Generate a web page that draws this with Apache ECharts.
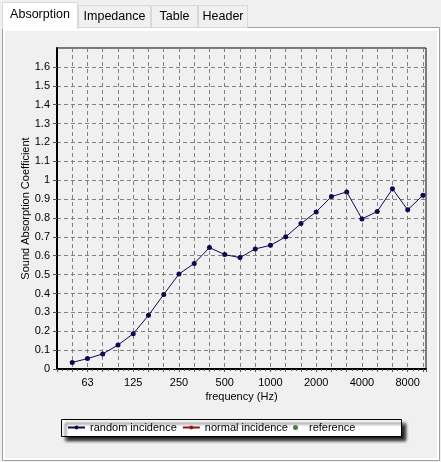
<!DOCTYPE html>
<html>
<head>
<meta charset="utf-8">
<script src="https://cdn.jsdelivr.net/npm/echarts@6/dist/echarts.min.js"></script>
<style>
  html, body { margin: 0; padding: 0; background: #f0f0f0; }
  #chart { width: 441px; height: 462px; }
</style>
</head>
<body>
<div id="chart"></div>
<script>
// third-octave band centres (Hz)
var freqs = [50, 63, 80, 100, 125, 160, 200, 250, 315, 400, 500, 630, 800, 1000,
  1250, 1600, 2000, 2500, 3150, 4000, 5000, 6300, 8000, 10000];
var randomIncidence = [0.035, 0.055, 0.08, 0.127, 0.187, 0.284, 0.395, 0.503, 0.559, 0.643,
  0.606, 0.59, 0.636, 0.655, 0.70, 0.77, 0.832, 0.913, 0.938, 0.795, 0.834, 0.954, 0.843, 0.92];
var normalIncidence = [];
var reference = [];
// octave labels, one every 3 bands starting at 62.5 Hz
var xTickLabels = ['63', '125', '250', '500', '1000', '2000', '4000', '8000'];
var tabs = ['Absorption', 'Impedance', 'Table', 'Header'];

var font = 'Liberation Sans, Arial, sans-serif';

// band index relative to 62.5 Hz (log2 scale, 3 per octave)
function band(f) { return Math.round(3 * Math.log2(f / 62.5)); }

var chart = echarts.init(document.getElementById('chart'));

var tabX = [2, 78, 151, 198, 248];
var graphics = [
  // tab panel
  { type: 'rect', z: -10, shape: { x: 2.5, y: 27.5, width: 437, height: 433 },
    style: { fill: '#ffffff', stroke: '#a0a0a0', lineWidth: 1 } },
  { type: 'rect', z: -9, shape: { x: 5, y: 31, width: 432, height: 427 },
    style: { fill: '#f0f0f0' } },
  // legend frame with shadow
  { type: 'rect', z: 1, shape: { x: 61.5, y: 419.5, width: 340, height: 17 },
    style: { fill: '#ffffff', stroke: '#000', lineWidth: 1,
      shadowBlur: 3, shadowOffsetX: 4, shadowOffsetY: 4, shadowColor: 'rgba(0,0,0,0.85)' } }
];
tabs.forEach(function (t, i) {
  var sel = i === 0;
  var x0 = tabX[i], x1 = tabX[i + 1];
  graphics.push({ type: 'rect', z: sel ? -5 : -8,
    shape: { x: x0 + 0.5, y: sel ? 2.5 : 5.5, width: x1 - x0 - 1, height: sel ? 26 : 22 },
    style: { fill: sel ? '#ffffff' : '#f0f0f0', stroke: '#d9d9d9', lineWidth: 1 } });
  graphics.push({ type: 'text', z: -4, x: (x0 + x1) / 2, y: sel ? 15 : 16.5,
    style: { text: t, font: '12.5px ' + font, fill: '#000', align: 'center', verticalAlign: 'middle' } });
});
// hide the line under the selected tab
graphics.push({ type: 'rect', z: -4, shape: { x: 3, y: 26, width: 74, height: 4 }, style: { fill: '#ffffff' } });

var option = {
  backgroundColor: '#f0f0f0',
  animation: false,
  textStyle: { fontFamily: font },
  graphic: graphics,
  grid: {
    left: 57, right: 15, top: 48, bottom: 93,
    show: true, borderColor: '#000', borderWidth: 1, backgroundColor: 'transparent'
  },
  legend: {
    left: 61, top: 422, z: 10,
    padding: [0, 0, 0, 6],
    itemGap: 5, itemWidth: 17, itemHeight: 5,
    textStyle: { fontSize: 11, color: '#000', fontFamily: font },
    data: ['random incidence', 'normal incidence', 'reference']
  },
  xAxis: {
    type: 'value', min: -2, max: 22.2, interval: 1,
    name: 'frequency (Hz)', nameLocation: 'middle', nameGap: 22, nameMoveOverlap: false,
    nameTextStyle: { fontSize: 11, color: '#000', fontFamily: font },
    axisLine: { onZero: false, lineStyle: { color: '#000', width: 2 } },
    axisTick: { length: 3, lineStyle: { color: '#555' } },
    minorTick: { show: true, splitNumber: 3, length: 2, lineStyle: { color: '#555' } },
    axisLabel: {
      interval: 0, margin: 8, fontSize: 11, color: '#000', fontFamily: font,
      showMaxLabel: false, showMinLabel: false,
      formatter: function (v) {
        var k = Math.round(v);
        return (k >= 0 && k % 3 === 0 && xTickLabels[k / 3]) ? xTickLabels[k / 3] : '';
      }
    },
    splitLine: { show: true, lineStyle: { color: '#808080', type: [4, 3], width: 1 } }
  },
  yAxis: {
    type: 'value', min: 0, max: 1.7, interval: 0.1,
    name: 'Sound Absorption Coefficient', nameLocation: 'middle', nameGap: 26, nameMoveOverlap: false,
    nameTextStyle: { fontSize: 11, color: '#000', fontFamily: font },
    axisLine: { show: true, onZero: false, lineStyle: { color: '#000', width: 2 } },
    axisTick: { show: true, length: 4, lineStyle: { color: '#555' } },
    axisLabel: {
      margin: 7, fontSize: 11, color: '#000', fontFamily: font, showMaxLabel: false,
      formatter: function (v) { return String(+v.toFixed(1)); }
    },
    splitLine: { show: true, lineStyle: { color: '#808080', type: [4, 3], width: 1 } }
  },
  series: [
    {
      name: 'random incidence', type: 'line',
      data: freqs.map(function (f, i) { return [band(f), randomIncidence[i]]; }),
      symbol: 'circle', symbolSize: 5, showAllSymbol: true,
      itemStyle: { color: '#0a0a50' },
      lineStyle: { color: '#0a0a50', width: 1 }
    },
    {
      name: 'normal incidence', type: 'line', data: normalIncidence,
      symbol: 'circle', symbolSize: 5,
      itemStyle: { color: '#8b1a1a' }, lineStyle: { color: '#8b1a1a', width: 1 }
    },
    {
      name: 'reference', type: 'scatter', data: reference,
      symbol: 'circle', symbolSize: 5, itemStyle: { color: '#1d5e1d' }
    }
  ]
};

chart.setOption(option);
</script>
</body>
</html>
